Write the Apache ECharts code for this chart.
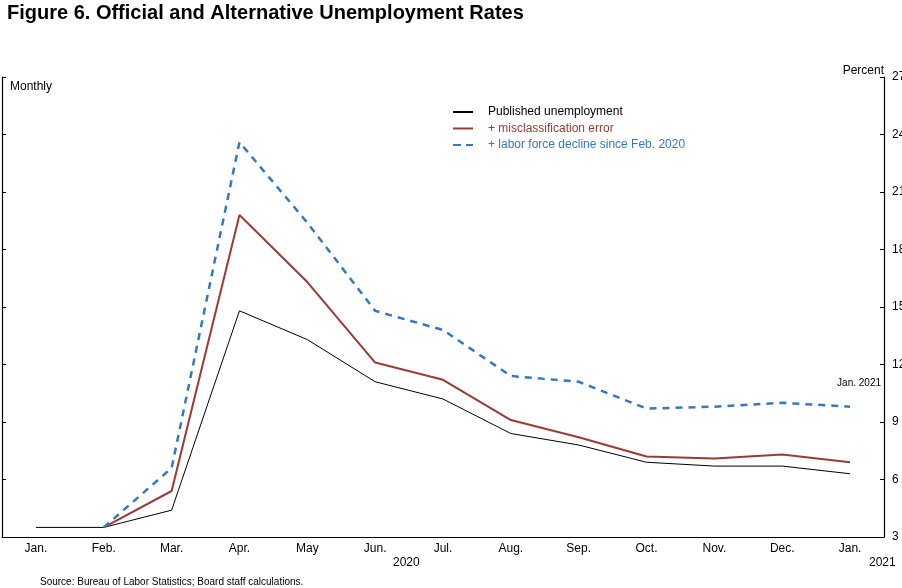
<!DOCTYPE html>
<html>
<head>
<meta charset="utf-8">
<script src="https://cdn.jsdelivr.net/npm/echarts@6/dist/echarts.min.js"></script>
<style>
html,body{margin:0;padding:0;background:#fff;}
#chart{width:902px;height:588px;}
</style>
</head>
<body>
<div id="chart"></div>
<script>
const months = ['Jan.','Feb.','Mar.','Apr.','May','Jun.','Jul.','Aug.','Sep.','Oct.','Nov.','Dec.','Jan.'];
const published = [3.5,3.5,4.4,14.8,13.3,11.1,10.2,8.4,7.8,6.9,6.7,6.7,6.3];
const misclass = [null,3.5,5.4,19.8,16.3,12.1,11.2,9.1,8.2,7.2,7.1,7.3,6.9];
const laborForce = [null,3.5,6.6,23.6,19.4,14.8,13.8,11.4,11.1,9.7,9.8,10.0,9.8];
const yTicks = [3,6,9,12,15,18,21,24,27];

const FONT = '"Liberation Sans", Arial, Helvetica, sans-serif';
const RED = '#9c3a34';
const BLUE = '#3478c0';

const chart = echarts.init(document.getElementById('chart'));
const yMin = yTicks[0], yMax = yTicks[yTicks.length-1], yStep = yTicks[1]-yTicks[0];

chart.setOption({
  animation:false,
  backgroundColor:'#fff',
  textStyle:{fontFamily:FONT},
  title:{
    text:'Figure 6. Official and Alternative Unemployment Rates',
    left:2, top:-2,
    textStyle:{fontFamily:FONT, fontSize:20, fontWeight:'bold', color:'#000'}
  },
  grid:{left:2, right:18, top:77, bottom:51, containLabel:false, outerBoundsMode:'none'},
  legend:{
    orient:'vertical', left:452, top:106, padding:0, itemWidth:20, itemHeight:10, itemGap:4.5,
    itemStyle:{opacity:0},
    textStyle:{fontFamily:FONT, fontSize:12, padding:[0,0,0,10]},
    data:[
      {name:'Published unemployment', textStyle:{color:'#000'}},
      {name:'+ misclassification error', textStyle:{color:RED}},
      {name:'+ labor force decline since Feb. 2020', textStyle:{color:BLUE}, lineStyle:{type:[8,5]}}
    ]
  },
  xAxis:[{
    type:'category', data:months, boundaryGap:true,
    axisLine:{lineStyle:{color:'#000', width:1.2}},
    axisTick:{inside:true, length:3, lineStyle:{color:'#000'}},
    axisLabel:{color:'#000', fontSize:12, fontFamily:FONT, margin:6}
  },{
    type:'category', data:months, boundaryGap:true, position:'bottom',
    axisLine:{show:false},
    axisTick:{inside:true, length:7, interval:function(i){return i>0 && i%3===0;}, lineStyle:{color:'#000'}},
    axisLabel:{show:false}
  }],
  yAxis:[{
    type:'value', position:'right', min:yMin, max:yMax, interval:yStep,
    axisLine:{show:true, lineStyle:{color:'#000', width:1.2}},
    axisTick:{show:true, inside:true, length:4, lineStyle:{color:'#000'}},
    axisLabel:{color:'#000', fontSize:12, fontFamily:FONT, margin:8},
    splitLine:{show:false}
  },{
    type:'value', position:'left', min:yMin, max:yMax, interval:yStep,
    axisLine:{show:true, lineStyle:{color:'#000', width:1.2}},
    axisTick:{show:true, inside:true, length:4, lineStyle:{color:'#000'}},
    axisLabel:{show:false},
    splitLine:{show:false}
  }],
  series:[
    {name:'Published unemployment', type:'line', data:published, symbol:'none',
     lineStyle:{color:'#000', width:1}, itemStyle:{color:'#000'}},
    {name:'+ misclassification error', type:'line', data:misclass, symbol:'none',
     lineStyle:{color:RED, width:2}, itemStyle:{color:RED}},
    {name:'+ labor force decline since Feb. 2020', type:'line', data:laborForce, symbol:'none',
     lineStyle:{color:BLUE, width:2.5, type:[7,6]}, itemStyle:{color:BLUE}}
  ],
  graphic:[
    {type:'text', left:10, top:81, style:{text:'Monthly', fill:'#000', font:'12px '+FONT}},
    {type:'text', right:18, top:65, style:{text:'Percent', fill:'#000', font:'12px '+FONT}},
    {type:'text', right:21, top:378, style:{text:'Jan. 2021', fill:'#000', font:'10px '+FONT}},
    {type:'text', left:393, top:557, style:{text:'2020', fill:'#000', font:'12px '+FONT}},
    {type:'text', left:869, top:557, style:{text:'2021', fill:'#000', font:'12px '+FONT}},
    {type:'text', left:40, top:577, style:{text:'Source: Bureau of Labor Statistics; Board staff calculations.', fill:'#000', font:'10px '+FONT}}
  ]
});
</script>
</body>
</html>
